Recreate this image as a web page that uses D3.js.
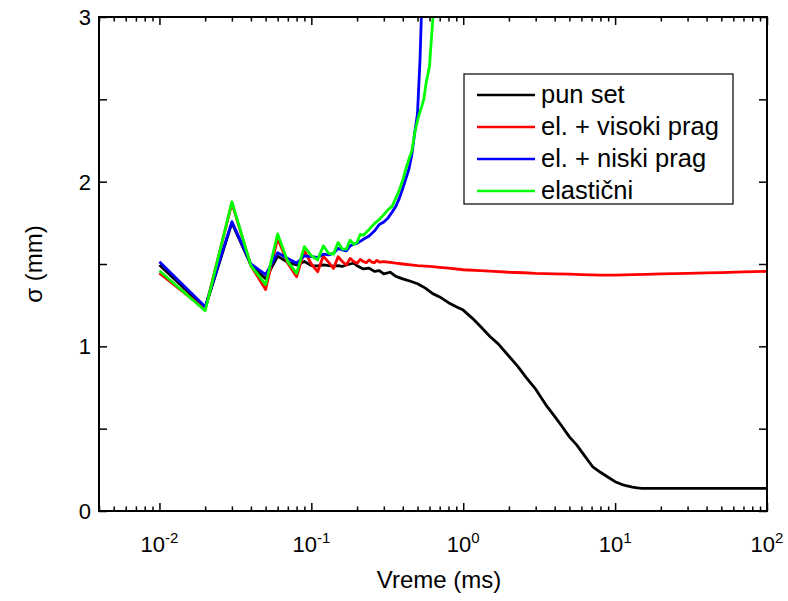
<!DOCTYPE html>
<html><head><meta charset="utf-8">
<script src="https://cdn.jsdelivr.net/npm/d3@7"></script>
<style>body{margin:0;background:#fff}text{font-family:"Liberation Sans",Arial,sans-serif}</style>
</head><body>
<svg id="c" width="788" height="601"></svg>
<script>
// ---- data ----
const seriesNames = ["pun set","el. + visoki prag","el. + niski prag","elastični"];
const seriesColors = ["#000000","#ff0000","#0000ff","#00ff00"];

const tBlack = [0.01,0.02,0.03,0.04,0.05,0.06,0.07,0.08,0.09,0.10,0.11,0.12,0.13,0.14,0.15,0.16,0.17,0.18,0.19,0.20,0.22,0.24,0.26,0.28,0.30,0.33,0.36,0.40,0.45,0.50,0.56,0.63,0.70,0.80,0.90,1.0,1.15,1.3,1.5,1.7,2.0,2.3,2.6,3.0,3.5,4.0,4.5,5.0,5.6,6.3,7.1,8.0,9.0,10,11,12,13,14,15,20,30,50,100];
const vBlack = [1.494,1.233,1.75,1.494,1.41,1.548,1.51,1.494,1.515,1.49,1.488,1.495,1.49,1.487,1.49,1.485,1.495,1.50,1.505,1.49,1.47,1.475,1.455,1.46,1.44,1.45,1.425,1.41,1.395,1.38,1.355,1.32,1.30,1.265,1.24,1.22,1.17,1.12,1.06,1.015,0.94,0.875,0.81,0.74,0.645,0.575,0.51,0.45,0.40,0.335,0.27,0.235,0.205,0.178,0.162,0.152,0.145,0.14,0.138,0.138,0.138,0.138,0.138];

const tRed = [0.01,0.02,0.03,0.04,0.05,0.06,0.07,0.08,0.09,0.10,0.11,0.12,0.13,0.14,0.15,0.16,0.17,0.18,0.19,0.20,0.21,0.22,0.23,0.24,0.25,0.26,0.27,0.28,0.30,0.33,0.36,0.40,0.45,0.5,0.6,0.7,0.8,1.0,1.3,1.6,2,2.5,3,4,5,6,8,10,13,16,20,30,40,50,70,100];
const vRed = [1.445,1.225,1.87,1.49,1.345,1.656,1.504,1.423,1.58,1.50,1.453,1.548,1.51,1.473,1.544,1.515,1.494,1.534,1.515,1.504,1.528,1.515,1.508,1.525,1.512,1.508,1.522,1.512,1.515,1.51,1.505,1.50,1.495,1.49,1.485,1.48,1.475,1.465,1.46,1.455,1.45,1.447,1.443,1.44,1.438,1.436,1.433,1.433,1.435,1.437,1.44,1.443,1.446,1.448,1.452,1.455];

const tBlue = [0.01,0.02,0.03,0.04,0.05,0.06,0.07,0.08,0.09,0.10,0.11,0.12,0.13,0.14,0.15,0.16,0.17,0.18,0.19,0.20,0.22,0.24,0.26,0.28,0.30,0.32,0.34,0.36,0.38,0.40,0.42,0.44,0.46,0.48,0.50,0.52,0.53,0.55];
const vBlue = [1.514,1.24,1.757,1.50,1.435,1.568,1.534,1.504,1.55,1.545,1.54,1.56,1.555,1.565,1.595,1.585,1.58,1.61,1.62,1.625,1.65,1.67,1.70,1.74,1.755,1.78,1.815,1.85,1.90,1.96,2.02,2.08,2.17,2.30,2.415,2.75,3.0,3.4];

const tGreen = [0.01,0.02,0.03,0.04,0.05,0.06,0.07,0.08,0.09,0.10,0.11,0.12,0.13,0.14,0.15,0.16,0.17,0.18,0.19,0.20,0.21,0.22,0.24,0.26,0.28,0.30,0.32,0.34,0.36,0.38,0.40,0.42,0.44,0.46,0.48,0.50,0.51,0.53,0.55,0.57,0.60,0.61,0.63,0.65];
const vGreen = [1.459,1.216,1.878,1.49,1.375,1.682,1.514,1.443,1.605,1.55,1.525,1.61,1.565,1.56,1.63,1.59,1.59,1.645,1.62,1.63,1.68,1.675,1.71,1.745,1.77,1.80,1.83,1.85,1.90,1.95,2.01,2.08,2.14,2.19,2.30,2.37,2.40,2.45,2.50,2.60,2.70,2.80,2.98,3.3];

const xMajor = [0.01,0.1,1,10,100];
const xMajorExp = ["-2","-1","0","1","2"];
const yTicks = [0,0.5,1,1.5,2,2.5,3];
const yLabels = [0,1,2,3];

// ---- layout ----
const L=99, R=767, T=17, B=511;
const svg = d3.select("#c");
const x = d3.scaleLog().domain([0.004,100]).range([L,R]);
const y = d3.scaleLinear().domain([0,3]).range([B,T]);

const xMinor = [];
[0.001,0.01,0.1,1,10].forEach(d=>{for(let k=2;k<=9;k++){const v=d*k; if(v>=0.004 && v<100) xMinor.push(+v.toPrecision(3));}});

svg.append("clipPath").attr("id","clip").append("rect").attr("x",L).attr("y",T).attr("width",R-L).attr("height",B-T);

const series = [[tBlack,vBlack],[tRed,vRed],[tBlue,vBlue],[tGreen,vGreen]];
const line = d3.line().x(d=>x(d[0])).y(d=>y(d[1]));
const g = svg.append("g").attr("clip-path","url(#clip)");
series.forEach((s,i)=>{
  g.append("path").datum(s[0].map((t,j)=>[t,s[1][j]]))
   .attr("d",line).attr("fill","none").attr("stroke",seriesColors[i])
   .attr("stroke-width",2.8).attr("stroke-linejoin","round");
});

function styleAxis(sel){sel.select(".domain").remove();sel.selectAll("line").attr("stroke","#000").attr("stroke-width",1.5);}
svg.append("g").attr("transform",`translate(0,${B})`).call(d3.axisBottom(x).tickValues(xMajor).tickSize(-8).tickFormat("")).call(styleAxis);
svg.append("g").attr("transform",`translate(0,${B})`).call(d3.axisBottom(x).tickValues(xMinor).tickSize(-4.5).tickFormat("")).call(styleAxis);
svg.append("g").attr("transform",`translate(0,${T})`).call(d3.axisTop(x).tickValues(xMajor).tickSize(-8).tickFormat("")).call(styleAxis);
svg.append("g").attr("transform",`translate(0,${T})`).call(d3.axisTop(x).tickValues(xMinor).tickSize(-4.5).tickFormat("")).call(styleAxis);
svg.append("g").attr("transform",`translate(${L},0)`).call(d3.axisLeft(y).tickValues(yTicks).tickSize(-8).tickFormat("")).call(styleAxis);
svg.append("g").attr("transform",`translate(${R},0)`).call(d3.axisRight(y).tickValues(yTicks).tickSize(-8).tickFormat("")).call(styleAxis);

svg.append("rect").attr("x",L).attr("y",T).attr("width",R-L).attr("height",B-T)
  .attr("fill","none").attr("stroke","#000").attr("stroke-width",2);

xMajor.forEach((v,i)=>{
  const t = svg.append("text").attr("x",x(v)).attr("y",552).attr("text-anchor","middle").attr("font-size",22);
  t.append("tspan").text("10");
  t.append("tspan").attr("font-size",15).attr("dy",-9).text(xMajorExp[i]);
});
yLabels.forEach(v=>{
  svg.append("text").attr("x",91).attr("y",y(v)+8).attr("text-anchor","end").attr("font-size",22).text(v);
});

svg.append("text").attr("x",439).attr("y",588).attr("text-anchor","middle").attr("font-size",24).text("Vreme (ms)");
svg.append("text").attr("transform",`translate(42,${(T+B)/2}) rotate(-90)`).attr("text-anchor","middle").attr("font-size",24).text("σ (mm)");

const lg = svg.append("g");
lg.append("rect").attr("x",464).attr("y",74).attr("width",269).attr("height",130).attr("fill","#fff").attr("stroke","#000").attr("stroke-width",1.2);
seriesNames.forEach((n,i)=>{
  const yy = 95 + i*32;
  lg.append("line").attr("x1",477).attr("x2",535).attr("y1",yy).attr("y2",yy).attr("stroke",seriesColors[i]).attr("stroke-width",2.6);
  lg.append("text").attr("x",541).attr("y",yy+8).attr("font-size",25.5).text(n);
});
</script>
</body></html>
